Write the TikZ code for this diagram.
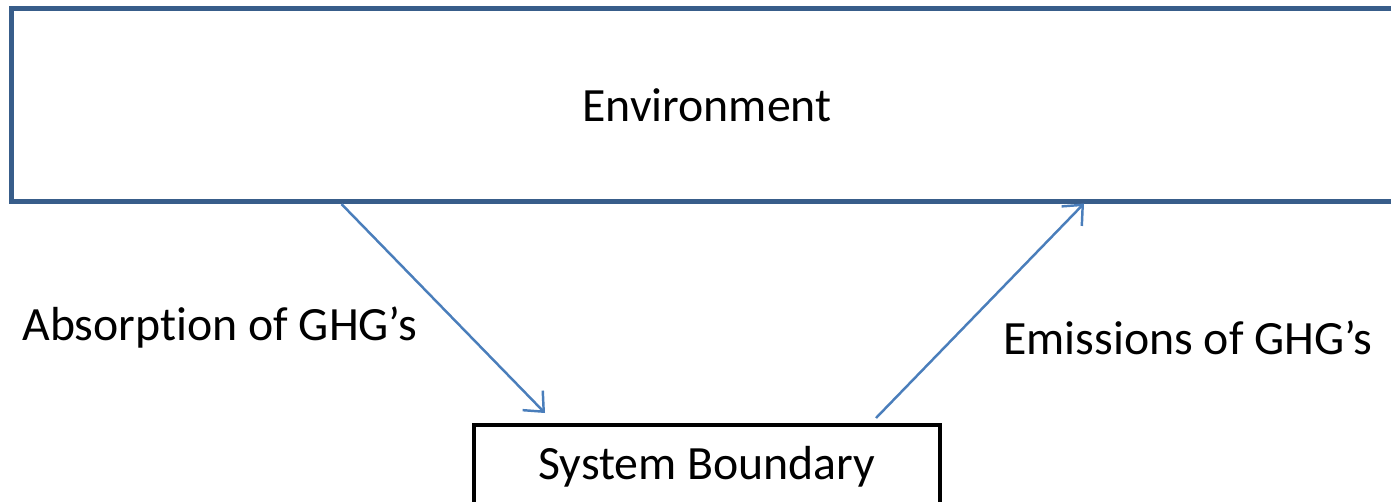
\documentclass[tikz,border=0pt]{standalone}
\usepackage{fontspec}
\setmainfont{Carlito}[Ligatures={NoCommon}]
\usepackage{xcolor}
\usetikzlibrary{arrows.meta,calc}

\definecolor{envblue}{RGB}{56,93,138}
\definecolor{flowblue}{RGB}{74,126,187}

\tikzset{
    envbox/.style={draw=envblue, line width=3pt, minimum width=27.84cm, minimum height=3.86cm, inner sep=0pt},
    sysbox/.style={draw=black, line width=2.6pt, minimum width=9.32cm, minimum height=1.68cm, inner sep=0pt},
    flow/.style={draw=flowblue, line width=1.4pt, -{Straight Barb[length=9pt,width=16pt,line width=1.4pt]}},
    lbl/.style={font=\fontsize{27.2}{32}\selectfont, inner sep=0pt}
}

\begin{document}
\begin{tikzpicture}[x=0.02cm,y=-0.02cm]
    \useasboundingbox (0,0) rectangle (1391,501);
    \clip (0,0) rectangle (1391,501);

    \node[envbox, lbl] (env) at (707,105) {Environment};
    \node[sysbox, lbl] (sys) at (707,467) {System Boundary};

    % free ends of the arrows
    \coordinate (absTip) at (545,413);
    \coordinate (emiTail) at (876,418);
    \coordinate (emiTip) at (1084,203.5);

    \draw[flow] ($(env.south west)!0.2384!(env.south east)$) -- (absTip);
    \draw[flow] (emiTail) -- (emiTip);

    \node[lbl, anchor=base west] (absLabel) at (22,340) {Absorption of GHG’s};
    \node[lbl, anchor=base west] (emiLabel) at (1003,354) {Emissions of GHG’s};
\end{tikzpicture}
\end{document}
